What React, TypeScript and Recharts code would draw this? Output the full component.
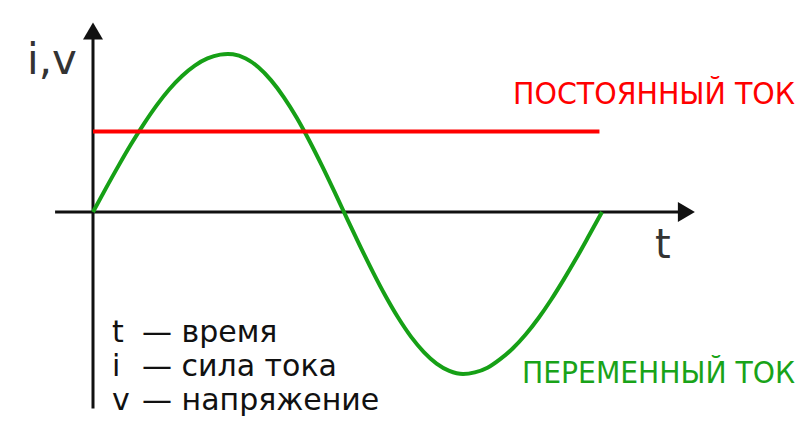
import { LineChart, Line, XAxis, YAxis, ReferenceLine } from "recharts";

// time in ms, one period of 50 Hz
const timeMs = [
  0, 0.5, 1, 1.5, 2, 2.5, 3, 3.5, 4, 4.5, 5, 5.3, 5.5, 6, 6.5, 7, 7.5, 8, 8.5, 9, 9.5, 9.86,
  10, 10.5, 11, 11.5, 12, 12.5, 13, 13.5, 14, 14.54, 15, 15.5, 16, 16.5, 17, 17.5, 18, 18.5,
  19, 19.5, 20,
];
// alternating current (green)
const acCurrent = [
  0, 0.148, 0.292, 0.43, 0.558, 0.675, 0.777, 0.861, 0.927, 0.972, 0.996, 1, 0.998, 0.971,
  0.916, 0.833, 0.726, 0.598, 0.451, 0.292, 0.124, 0, -0.048, -0.217, -0.38, -0.533, -0.671,
  -0.79, -0.886, -0.959, -1.005, -1.025, -1.015, -0.985, -0.931, -0.862, -0.775, -0.672, -0.555,
  -0.426, -0.29, -0.146, 0,
];
// direct current (red)
const dcTime = [0, 19.9];
const dcCurrent = [0.51, 0.51];

// axis extents, in data units
const xAxisFrom = -1.49;
const xAxisTo = 23.65;
const yAxisFrom = -1.244;
const yAxisTo = 1.2;

const legendRows = [
  { sym: "t", text: "— время" },
  { sym: "i", text: "— сила тока" },
  { sym: "v", text: "— напряжение" },
];

const acData = timeMs.map((t, i) => ({ t, v: acCurrent[i] }));
const dcData = dcTime.map((t, i) => ({ t, v: dcCurrent[i] }));

const FONT = "'DejaVu Sans', Verdana, sans-serif";
const CONDENSED = "'DejaVu Sans Condensed', 'Liberation Sans Narrow', 'DejaVu Sans', sans-serif";
const AXIS_COLOR = "#111";

function arrow(dir: "right" | "up") {
  return (p: any) => {
    const { x1, y1, x2, y2 } = p;
    const len = 17;
    const half = 10;
    const head =
      dir === "right"
        ? `${x2},${y2} ${x2 - len},${y2 - half} ${x2 - len},${y2 + half}`
        : `${x2},${y2} ${x2 - half},${y2 + len} ${x2 + half},${y2 + len}`;
    return (
      <g>
        <line
          x1={x1}
          y1={y1}
          x2={dir === "right" ? x2 - len + 1 : x2}
          y2={dir === "up" ? y2 + len - 1 : y2}
          stroke={AXIS_COLOR}
          strokeWidth={3}
        />
        <polygon points={head} fill={AXIS_COLOR} />
      </g>
    );
  };
}

export default function App() {
  return (
    <div style={{ position: "absolute", left: 0, top: 0, background: "#fff" }}>
      <LineChart
        width={800}
        height={433}
        margin={{ top: 54, right: 198, bottom: 59, left: 93 }}
      >
        <XAxis type="number" dataKey="t" domain={[0, 20]} hide />
        <YAxis type="number" domain={[-1, 1]} hide />

        <ReferenceLine
          segment={[
            { x: xAxisFrom, y: 0 },
            { x: xAxisTo, y: 0 },
          ]}
          ifOverflow="visible"
          shape={arrow("right")}
        />
        <ReferenceLine
          segment={[
            { x: 0, y: yAxisFrom },
            { x: 0, y: yAxisTo },
          ]}
          ifOverflow="visible"
          shape={arrow("up")}
        />

        <Line
          data={acData}
          dataKey="v"
          type="monotone"
          stroke="#16a016"
          strokeWidth={4}
          dot={false}
          activeDot={false}
          isAnimationActive={false}
        />
        <Line
          data={dcData}
          dataKey="v"
          type="linear"
          stroke="#ff0000"
          strokeWidth={4}
          dot={false}
          activeDot={false}
          isAnimationActive={false}
        />

        <text x={27} y={74} fontFamily={FONT} fontSize={42} fill="#333">
          i,v
        </text>
        <text x={655} y={258} fontFamily={FONT} fontSize={40} fill="#333">
          t
        </text>
        <text
          x={513}
          y={104}
          fontFamily={CONDENSED}
          fontSize={31}
          fill="#ff0000"
          textLength={282}
          lengthAdjust="spacingAndGlyphs"
        >
          ПОСТОЯННЫЙ ТОК
        </text>
        <text
          x={522}
          y={383}
          fontFamily={CONDENSED}
          fontSize={30}
          fill="#19a319"
          textLength={273}
          lengthAdjust="spacingAndGlyphs"
        >
          ПЕРЕМЕННЫЙ ТОК
        </text>
        {legendRows.map((r, i) => (
          <g key={r.sym} fontFamily={FONT} fontSize={30} fill="#111">
            <text x={112} y={342 + i * 34}>
              {r.sym}
            </text>
            <text x={142} y={342 + i * 34}>
              {r.text}
            </text>
          </g>
        ))}
      </LineChart>
    </div>
  );
}
